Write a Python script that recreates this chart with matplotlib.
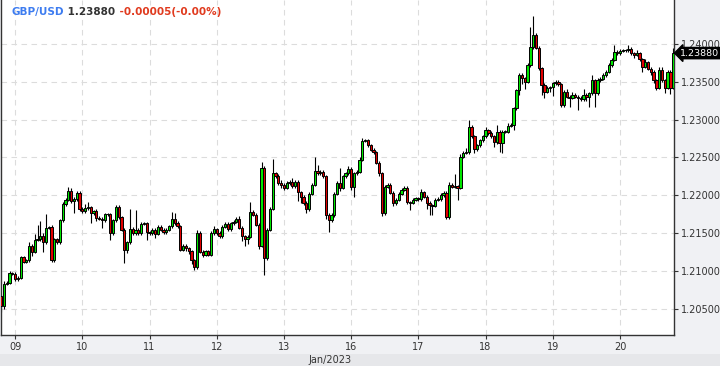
import matplotlib
matplotlib.use('Agg')
import matplotlib.pyplot as plt
import matplotlib.transforms as mtransforms
from matplotlib.patches import Rectangle

# hourly GBP/USD candles, 8 Jan evening .. 20 Jan 2023
first_open = 1.2067
closes = [
    1.2053, 1.2083, 1.2084, 1.2097, 1.2096, 1.2089, 1.2091, 1.2118, 1.2112, 1.2114,
    1.2133, 1.2125, 1.2141, 1.2142, 1.2146, 1.2138, 1.2157, 1.2158, 1.2114, 1.2142,
    1.2138, 1.2167, 1.2188, 1.2194, 1.2206, 1.2192, 1.2195, 1.2203, 1.2182, 1.2179,
    1.2183, 1.2184, 1.2176, 1.2179, 1.2170, 1.2169, 1.2167, 1.2175, 1.2175, 1.2150,
    1.2167, 1.2184, 1.2171, 1.2154, 1.2128, 1.2138, 1.2155, 1.2150, 1.2154, 1.2150,
    1.2162, 1.2163, 1.2151, 1.2150, 1.2154, 1.2149, 1.2158, 1.2154, 1.2151, 1.2154,
    1.2159, 1.2169, 1.2163, 1.2159, 1.2128, 1.2133, 1.2130, 1.2126, 1.2114, 1.2105,
    1.2150, 1.2125, 1.2121, 1.2126, 1.2121, 1.2150, 1.2155, 1.2150, 1.2146, 1.2158,
    1.2162, 1.2155, 1.2163, 1.2165, 1.2169, 1.2157, 1.2146, 1.2142, 1.2145, 1.2178,
    1.2174, 1.2161, 1.2133, 1.2236, 1.2117, 1.2154, 1.2182, 1.2229, 1.2225, 1.2216,
    1.2214, 1.2210, 1.2216, 1.2218, 1.2212, 1.2218, 1.2204, 1.2198, 1.2190, 1.2182,
    1.2202, 1.2214, 1.2232, 1.2229, 1.2231, 1.2225, 1.2174, 1.2167, 1.2174, 1.2202,
    1.2216, 1.2210, 1.2225, 1.2229, 1.2235, 1.2211, 1.2229, 1.2231, 1.2247, 1.2272,
    1.2273, 1.2266, 1.2260, 1.2257, 1.2243, 1.2229, 1.2176, 1.2211, 1.2214, 1.2203,
    1.2190, 1.2194, 1.2202, 1.2207, 1.2210, 1.2191, 1.2190, 1.2194, 1.2196, 1.2195,
    1.2204, 1.2198, 1.2190, 1.2187, 1.2186, 1.2194, 1.2195, 1.2200, 1.2203, 1.2171,
    1.2214, 1.2211, 1.2212, 1.2210, 1.2251, 1.2256, 1.2257, 1.2290, 1.2278, 1.2261,
    1.2266, 1.2273, 1.2278, 1.2286, 1.2282, 1.2278, 1.2270, 1.2284, 1.2269, 1.2284,
    1.2284, 1.2292, 1.2293, 1.2315, 1.2339, 1.2359, 1.2355, 1.2350, 1.2372, 1.2396,
    1.2412, 1.2395, 1.2368, 1.2346, 1.2337, 1.2342, 1.2343, 1.2348, 1.2350, 1.2347,
    1.2319, 1.2337, 1.2330, 1.2329, 1.2333, 1.2330, 1.2329, 1.2327, 1.2333, 1.2330,
    1.2335, 1.2352, 1.2335, 1.2352, 1.2354, 1.2359, 1.2363, 1.2372, 1.2379, 1.2389,
    1.2388, 1.2391, 1.2392, 1.2392, 1.2393, 1.2388, 1.2386, 1.2388, 1.2380, 1.2370,
    1.2376, 1.2367, 1.2363, 1.2352, 1.2342, 1.2366, 1.2352, 1.2342, 1.2363, 1.2342, 1.2388,
]
# wick lengths beyond the body, in pips
up_wick = [
    2, 3, 2, 3, 2, 2, 2, 2, 2, 2,
    5, 2, 8, 19, 20, 4, 18, 1, 2, 2,
    2, 2, 3, 2, 5, 4, 2, 2, 2, 2,
    6, 7, 2, 2, 3, 2, 2, 2, 2, 2,
    2, 3, 3, 2, 2, 2, 27, 3, 26, 2,
    2, 2, 2, 2, 2, 2, 2, 3, 2, 2,
    2, 9, 8, 3, 2, 2, 2, 2, 2, 2,
    4, 2, 2, 2, 2, 3, 4, 2, 2, 3,
    2, 2, 2, 2, 2, 3, 2, 2, 2, 13,
    3, 2, 2, 8, 2, 2, 2, 19, 2, 3,
    4, 2, 3, 2, 5, 2, 2, 2, 2, 2,
    2, 2, 18, 8, 3, 2, 2, 2, 2, 2,
    3, 20, 2, 2, 3, 2, 2, 2, 3, 4,
    2, 2, 2, 2, 2, 2, 2, 3, 2, 2,
    2, 2, 2, 3, 2, 2, 2, 2, 2, 2,
    4, 2, 2, 2, 2, 2, 2, 3, 2, 2,
    3, 2, 16, 2, 3, 2, 6, 9, 3, 2,
    2, 2, 2, 4, 2, 3, 2, 9, 2, 2,
    2, 3, 2, 2, 2, 2, 3, 2, 3, 27,
    25, 3, 2, 2, 2, 2, 2, 2, 2, 2,
    2, 2, 4, 2, 3, 2, 2, 2, 8, 2,
    2, 7, 2, 3, 2, 3, 2, 3, 2, 10,
    3, 3, 2, 2, 6, 3, 2, 4, 2, 2,
    4, 2, 2, 2, 2, 4, 3, 2, 2, 2, 7,
]
down_wick = [
    7, 3, 2, 2, 2, 2, 2, 2, 2, 2,
    2, 5, 2, 2, 2, 13, 2, 2, 2, 2,
    2, 2, 2, 2, 2, 2, 16, 2, 3, 2,
    2, 2, 13, 2, 4, 2, 10, 2, 2, 9,
    2, 2, 2, 2, 18, 4, 2, 2, 2, 2,
    2, 2, 10, 2, 2, 5, 2, 2, 2, 2,
    2, 2, 2, 2, 2, 2, 4, 4, 5, 4,
    2, 2, 3, 2, 2, 2, 2, 2, 2, 2,
    2, 2, 2, 2, 2, 2, 6, 9, 6, 2,
    2, 2, 4, 2, 22, 3, 2, 2, 2, 2,
    4, 3, 2, 2, 2, 2, 12, 8, 3, 6,
    3, 2, 2, 2, 2, 2, 6, 16, 2, 3,
    2, 4, 2, 2, 2, 4, 13, 2, 2, 2,
    2, 2, 2, 2, 2, 3, 4, 2, 2, 2,
    4, 3, 2, 2, 2, 3, 10, 2, 2, 2,
    2, 2, 8, 13, 12, 2, 2, 2, 2, 3,
    2, 2, 2, 16, 2, 2, 2, 2, 2, 5,
    3, 2, 2, 2, 2, 2, 6, 2, 12, 13,
    2, 2, 2, 7, 2, 6, 8, 10, 2, 2,
    2, 2, 3, 14, 8, 2, 6, 12, 2, 2,
    2, 2, 2, 12, 2, 2, 16, 2, 2, 6,
    13, 2, 18, 2, 2, 2, 2, 2, 2, 2,
    2, 2, 2, 2, 2, 2, 4, 2, 2, 7,
    2, 2, 4, 3, 3, 2, 2, 7, 2, 8, 2,
]
day_labels = ['09', '10', '11', '12', '13', '16', '17', '18', '19', '20']
day_first_bar = [5, 29, 53, 77, 101, 125, 149, 173, 197, 221]
price_ticks = [1.205, 1.210, 1.215, 1.220, 1.225, 1.230, 1.235, 1.240]
last_price = 1.23880
change_text = '-0.00005(-0.00%)'

opens = [first_open] + closes[:-1]
n = len(closes)
xs = list(range(n))
highs = [max(o, c) + u * 0.0001 for o, c, u in zip(opens, closes, up_wick)]
lows = [min(o, c) - d * 0.0001 for o, c, d in zip(opens, closes, down_wick)]

fig = plt.figure(figsize=(7.2, 3.66), dpi=100, facecolor='#f0f1f4')
fig.patches.append(Rectangle((0, 0), 1, 12 / 366, transform=fig.transFigure,
                             facecolor='#e6e7ea', edgecolor='none', zorder=0))
ax = fig.add_axes([1 / 720, 31 / 366, 673 / 720, 335 / 366])
ax.set_facecolor('white')

ax.vlines(xs, lows, highs, color='black', linewidth=0.8, zorder=2)
bottoms = [min(o, c) for o, c in zip(opens, closes)]
heights = [max(abs(c - o), 0.00004) for o, c in zip(opens, closes)]
colors = ['#00e600' if c >= o else '#e00000' for o, c in zip(opens, closes)]
ax.bar(xs, heights, bottom=bottoms, width=0.82, color=colors,
       edgecolor='black', linewidth=0.7, zorder=3)

ax.set_xlim(-0.05, 240.3)
ax.set_ylim(1.20151, 1.24582)

ax.yaxis.tick_right()
ax.set_yticks(price_ticks)
ax.set_yticklabels(['%.5f' % p for p in price_ticks])
ax.set_xticks(day_first_bar)
ax.set_xticklabels(day_labels)
ax.tick_params(axis='both', labelsize=7, colors='#333333', length=3, width=0.8, pad=2)
ax.grid(True, color='#dcdcdc', linestyle=(0, (5, 4)), linewidth=0.8, zorder=0)

for side in ['left', 'right', 'bottom']:
    ax.spines[side].set_color('#333333')
    ax.spines[side].set_linewidth(1)
ax.spines['top'].set_visible(False)

# last price tag on the right axis
blend = mtransforms.blended_transform_factory(ax.transAxes, ax.transData)
ax.text(1.0095, last_price, '%.5f' % last_price, transform=blend, color='white',
        fontsize=6.8, va='center', ha='left', clip_on=False, zorder=5,
        bbox=dict(boxstyle='larrow,pad=0.12', facecolor='black', edgecolor='black'))

# header
t1 = ax.text(11 / 673, 1 - 12 / 335, 'GBP/USD', transform=ax.transAxes, color='#3d7cf0',
             fontsize=7.5, fontweight='bold', va='center')
t2 = ax.annotate(' %.5f' % last_price, xy=(1, 0.5), xycoords=t1, color='#333333',
                 fontsize=7.5, fontweight='bold', va='center')
ax.annotate(' ' + change_text, xy=(1, 0.5), xycoords=t2, color='#e03a1e',
            fontsize=7.5, fontweight='bold', va='center')

fig.text(330 / 720, 6 / 366, 'Jan/2023', fontsize=7, color='#333333', ha='center', va='center')

fig.savefig('out.png', dpi=100, facecolor=fig.get_facecolor())
